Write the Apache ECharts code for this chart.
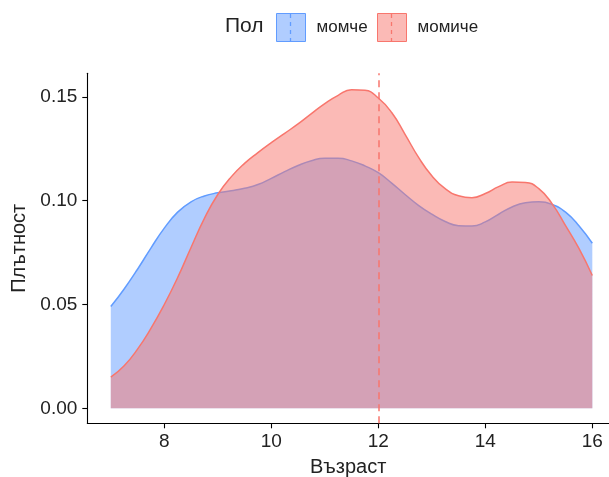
<!DOCTYPE html>
<html>
<head>
<meta charset="utf-8">
<script src="https://cdn.jsdelivr.net/npm/echarts@6/dist/echarts.min.js"></script>
<style>
html,body{margin:0;padding:0;background:#fff;}
#chart{width:609px;height:477px;}
</style>
</head>
<body>
<div id="chart"></div>
<script>
// Age grid (x) and density values
var ages = [7.0,7.25,7.5,7.75,8.0,8.25,8.5,8.75,9.0,9.25,9.5,9.75,10.0,10.25,10.5,10.75,11.0,11.25,11.5,11.75,12.0,12.25,12.5,12.75,13.0,13.25,13.5,13.75,14.0,14.25,14.5,14.75,15.0,15.25,15.5,15.75,16.0];
var boys = [0.049,0.0575,0.0670,0.0772,0.0868,0.0945,0.0995,0.1023,0.1038,0.1048,0.1060,0.1078,0.1108,0.1140,0.1170,0.1193,0.1205,0.1205,0.1192,0.1168,0.1135,0.1085,0.1030,0.0978,0.0935,0.0900,0.0880,0.0878,0.0898,0.0935,0.0970,0.0990,0.0995,0.0982,0.0945,0.0880,0.0795];
var girls = [0.015,0.0205,0.0285,0.0385,0.0500,0.0630,0.0775,0.0915,0.1030,0.1115,0.1180,0.1232,0.1280,0.1325,0.1370,0.1420,0.1468,0.1508,0.1535,0.1532,0.1495,0.1425,0.1320,0.1210,0.1120,0.1058,0.1024,0.1015,0.1035,0.1068,0.1090,0.1088,0.1058,0.0985,0.0880,0.0770,0.0640];
var groupNames = ['момче','момиче'];
var xTicks = [8,10,12,14,16];
var yTicks = [0,0.05,0.10,0.15];
var refLine = 12;

var blueLine = '#619CFF', blueFill = 'rgba(97,156,255,0.5)';
var redLine = '#F8766D', redFill = 'rgba(248,118,109,0.5)';
var FONT = 'Liberation Sans, Arial, sans-serif';

function pairs(ys){ return ages.map(function(a,i){ return [a, ys[i]]; }); }

var chart = echarts.init(document.getElementById('chart'), null, {renderer:'canvas'});
chart.setOption({
  animation:false,
  backgroundColor:'#fff',
  textStyle:{fontFamily:FONT},
  grid:{left:87.3, top:73.3, right:0, bottom:53.7, containLabel:false, outerBoundsMode:'none'},
  legend:[
    {data:[{name:groupNames[0], itemStyle:{color:blueFill, borderColor:blueLine, borderWidth:1}}],
     left:276, top:13, padding:0, itemWidth:29, itemHeight:28, icon:'rect',
     textStyle:{fontSize:17, color:'#222', fontFamily:FONT, padding:[0,0,0,6]}, selectedMode:false},
    {data:[{name:groupNames[1], itemStyle:{color:redFill, borderColor:redLine, borderWidth:1}}],
     left:377, top:13, padding:0, itemWidth:29, itemHeight:28, icon:'rect',
     textStyle:{fontSize:17, color:'#222', fontFamily:FONT, padding:[0,0,0,6]}, selectedMode:false}
  ],
  graphic:[
    {type:'text', left:225, top:16, style:{text:'Пол', fontSize:21, fill:'#222', fontFamily:FONT}},
    {type:'line', shape:{x1:290.5,y1:14,x2:290.5,y2:41}, style:{stroke:blueLine, lineWidth:1.3, lineDash:[4,4]}},
    {type:'line', shape:{x1:391.5,y1:14,x2:391.5,y2:41}, style:{stroke:redLine, lineWidth:1.3, lineDash:[4,4]}}
  ],
  xAxis:{
    type:'value', min:6.561, max:16.312,
    name:'Възраст', nameLocation:'middle', nameGap:34,
    nameTextStyle:{fontSize:20, color:'#222', fontFamily:FONT},
    axisLine:{show:true, onZero:false, lineStyle:{color:'#000', width:1.1}},
    axisTick:{show:true, length:5, customValues:xTicks, lineStyle:{color:'#000', width:1.1}},
    axisLabel:{customValues:xTicks, fontSize:19, color:'#222', margin:9, fontFamily:FONT},
    splitLine:{show:false}
  },
  yAxis:{
    type:'value', min:-0.00723, max:0.1614,
    name:'Плътност', nameLocation:'middle', nameGap:57, nameRotate:90,
    nameTextStyle:{fontSize:20, color:'#222', fontFamily:FONT},
    axisLine:{show:true, onZero:false, lineStyle:{color:'#000', width:1.1}},
    axisTick:{show:true, length:5, customValues:yTicks, lineStyle:{color:'#000', width:1.1}},
    axisLabel:{customValues:yTicks, fontSize:19, color:'#222', margin:10, fontFamily:FONT,
      formatter:function(v){ return v.toFixed(2); }},
    splitLine:{show:false}
  },
  series:[
    {name:groupNames[0], type:'line', data:pairs(boys), smooth:0.5, showSymbol:false,
     lineStyle:{color:blueLine, width:1.5}, itemStyle:{color:blueLine},
     areaStyle:{color:blueLine, opacity:0.5, origin:'auto'}, z:2},
    {name:groupNames[1], type:'line', data:pairs(girls), smooth:0.5, showSymbol:false,
     lineStyle:{color:redLine, width:1.5}, itemStyle:{color:redLine},
     areaStyle:{color:redLine, opacity:0.5, origin:'auto'}, z:3,
     markLine:{silent:true, symbol:['none','none'], label:{show:false},
       lineStyle:{color:redLine, type:[7,5], width:1.5},
       data:[{xAxis:refLine}]}}
  ]
});
</script>
</body>
</html>
